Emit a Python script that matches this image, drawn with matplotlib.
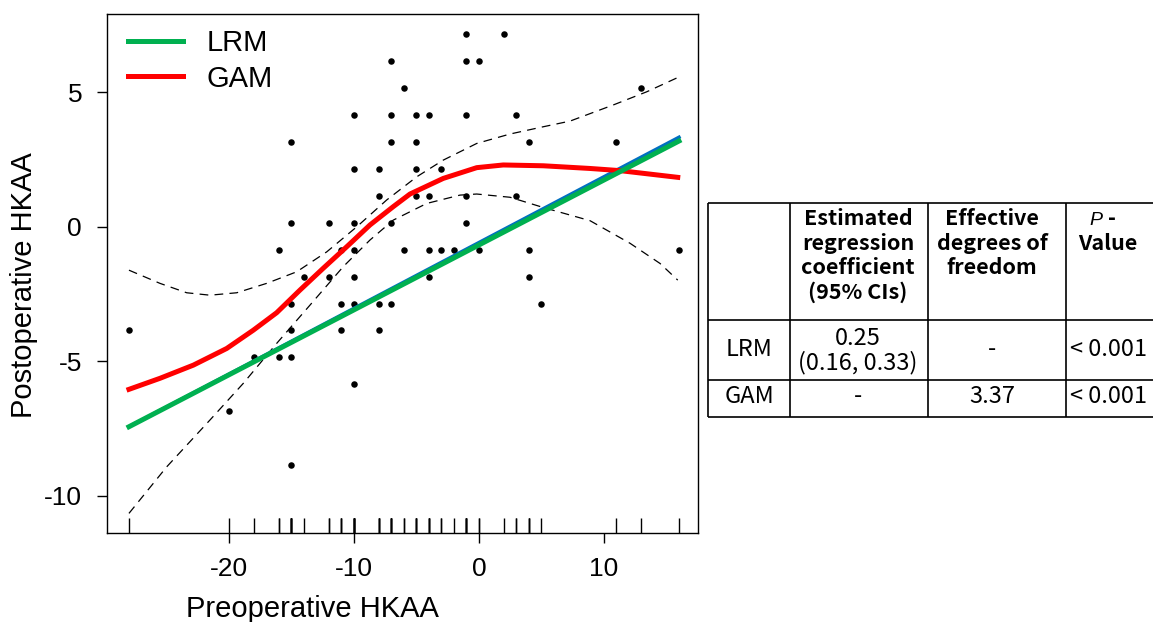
import matplotlib.pyplot as plt

plt.rcParams["font.family"] = ["Liberation Sans", "DejaVu Sans"]
plt.rcParams["axes.unicode_minus"] = False

# 観測値 (術前 HKAA, 術後 HKAA)
pre_hkaa = [-7, -10, -7, -15, -7, -10, -8, -8, -15, -12, -10, -7, -16, -11, -10,
            -1, 2, -1, 0, -6, 13, -5, -4, -1, 3, -5, 4, 11, -5, -3, -5, -4, -1, 3,
            -1, -6, -4, -3, -2, 0, 4, 16,
            -14, -12, -10, -15, -11, -10, -8, -7, -28, -15, -11, -8, -18, -16, -15,
            -10, -20, -15, -4, 4, 5]
post_hkaa = [6.15, 4.15, 4.15, 3.15, 3.15, 2.15, 2.15, 1.15, 0.15, 0.15, 0.15, 0.15,
             -0.85, -0.85, -0.85,
             7.15, 7.15, 6.15, 6.15, 5.15, 5.15, 4.15, 4.15, 4.15, 4.15, 3.15, 3.15,
             3.15, 2.15, 2.15, 1.15, 1.15, 1.15, 1.15, 0.15,
             -0.85, -0.85, -0.85, -0.85, -0.85, -0.85, -0.85,
             -1.85, -1.85, -1.85, -2.85, -2.85, -2.85, -2.85, -2.85, -3.85, -3.85,
             -3.85, -3.85, -4.85, -4.85, -4.85, -5.85, -6.85, -8.85, -1.85, -1.85,
             -2.85]

# LRM (直線回帰)
lrm_x = [-28, 16]
lrm_y = [-7.43, 3.19]
ref_y = [-7.43, 3.33]

# GAM 平滑曲線
gam_x = [-28, -25.52, -22.85, -20.18, -18.05, -16.18, -14.32, -12.46, -10.58, -8.72,
         -6.86, -5.52, -2.86, -0.18, 1.94, 5.14, 8.88, 11.28, 15.9]
gam_y = [-6.04, -5.63, -5.14, -4.52, -3.84, -3.19, -2.35, -1.54, -0.74, 0.07,
         0.75, 1.22, 1.80, 2.20, 2.30, 2.27, 2.17, 2.09, 1.84]

# GAM 95% 信頼区間
ci_up_x = [-28, -25.52, -23.38, -21.52, -19.38, -16.98, -14.58, -12.18, -9.78, -7.38,
           -4.98, -2.86, -0.18, 2.48, 5.14, 7.28, 10.74, 13.42, 15.9]
ci_up_y = [-1.61, -2.10, -2.45, -2.54, -2.45, -2.10, -1.67, -0.93, 0.00, 1.00,
           1.86, 2.48, 3.10, 3.45, 3.72, 3.93, 4.53, 5.02, 5.55]
ci_lo_x = [-28, -24.98, -21.52, -18.86, -16.18, -13.52, -10.86, -8.72, -6.86, -4.18,
           -1.52, -0.18, 2.48, 5.14, 8.88, 12.08, 14.48, 15.9]
ci_lo_y = [-10.65, -8.92, -7.18, -5.82, -4.33, -2.91, -1.48, -0.49, 0.25, 0.87,
           1.18, 1.22, 1.10, 0.72, 0.23, -0.61, -1.36, -1.98]

# 表の中身
table_header = ["", "Estimated\nregression\ncoefficient\n(95% CIs)",
                "Effective\ndegrees of\nfreedom", "P -\nValue"]
table_rows = [
    ["LRM", "0.25\n(0.16, 0.33)", "-", "< 0.001"],
    ["GAM", "-", "3.37", "< 0.001"],
]

W, H = 1153, 622
fig = plt.figure(figsize=(W / 100, H / 100), dpi=100)

ax = fig.add_axes([106.7 / W, 1 - 533.3 / H, (698 - 106.7) / W, (533.3 - 14.3) / H])

ax.scatter(pre_hkaa, post_hkaa, s=22, color="black", zorder=2, linewidths=0)
ax.vlines(pre_hkaa, 0, 0.03, transform=ax.get_xaxis_transform(), color="black",
          lw=1.0, zorder=2)
ax.plot(ci_up_x, ci_up_y, color="black", lw=0.9, ls=(0, (7, 5)), zorder=3)
ax.plot(ci_lo_x, ci_lo_y, color="black", lw=0.9, ls=(0, (7, 5)), zorder=3)
ax.plot(lrm_x, ref_y, color="#0070C0", lw=2.5, zorder=3.5)
l_gam, = ax.plot(gam_x, gam_y, color="#FF0000", lw=3.6, zorder=4, label="GAM",
                 solid_joinstyle="round")
l_lrm, = ax.plot(lrm_x, lrm_y, color="#00B050", lw=3.6, zorder=5, label="LRM")

ax.set_xlim(-29.78, 17.52)
ax.set_ylim(-11.39, 7.90)
ax.set_xticks([-20, -10, 0, 10])
ax.set_yticks([-10, -5, 0, 5])
ax.tick_params(direction="out", length=7.2, width=1, labelsize=19, colors="black")
ax.tick_params(axis="x", pad=10)
ax.tick_params(axis="y", pad=10.5)
for sp in ax.spines.values():
    sp.set_linewidth(1.0)

ax.legend(handles=[l_lrm, l_gam], loc="upper left", bbox_to_anchor=(0.036, 0.972),
          frameon=False, fontsize=21, handlelength=1.88, handletextpad=0.8,
          labelspacing=0.27, borderpad=0, borderaxespad=0)

fig.text(312 / W, 1 - 617 / H, "Preoperative HKAA", fontsize=21, ha="center",
         va="baseline")
fig.text(24 / W, 1 - 285.5 / H, "Postoperative HKAA", fontsize=21, ha="center",
         va="center", rotation=90)

# 表 (ピクセル座標で描く)
tab = fig.add_axes([0, 0, 1, 1])
tab.set_xlim(0, W)
tab.set_ylim(H, 0)
tab.axis("off")

col_edges = [708, 790, 928, 1066, 1165]
row_edges = [203, 320, 380, 417]
col_centers = [749, 858, 992, 1108]
tab.hlines(row_edges, col_edges[0], col_edges[-1], color="black", lw=1.2)
tab.vlines(col_edges, row_edges[0], row_edges[-1], color="black", lw=1.2)

jp = ["Noto Sans CJK JP", "DejaVu Sans"]
for c, head in enumerate(table_header):
    for i, line in enumerate(head.split("\n")):
        yb = 225 + i * 24.5
        if line == "P -":
            tab.text(col_centers[c] - 6, yb, "P", fontsize=14, ha="right",
                     va="baseline", family=["Liberation Sans"], style="italic")
            tab.text(col_centers[c] + 4, yb, "-", fontsize=15.5, ha="center",
                     va="baseline", family=jp, weight="bold")
        else:
            tab.text(col_centers[c], yb, line, fontsize=15.5, ha="center",
                     va="baseline", family=jp, weight="bold")

row_baselines = [[356.5], [403]]
for r, row in enumerate(table_rows):
    for c, cell in enumerate(row):
        lines = cell.split("\n")
        if len(lines) == 2:
            ybs = [345, 369]
        else:
            ybs = row_baselines[r]
        for line, yb in zip(lines, ybs):
            tab.text(col_centers[c], yb, line, fontsize=17, ha="center",
                     va="baseline", family=jp)

fig.savefig("out.png", dpi=100)
